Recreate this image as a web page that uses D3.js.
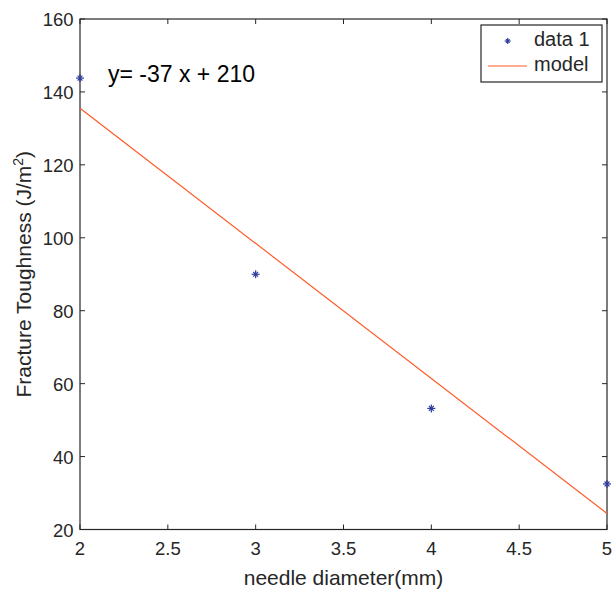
<!DOCTYPE html>
<html>
<head>
<meta charset="utf-8">
<script src="https://cdn.jsdelivr.net/npm/d3@7"></script>
<style>
  body { margin: 0; background: #fff; }
  text { font-family: "Liberation Sans", Arial, sans-serif; fill: #262626; }
</style>
</head>
<body>
<svg width="614" height="589"></svg>
<script>
// measured points
const diameter = [2, 3, 4, 5];
const toughness = [143.8, 90, 53.2, 32.5];

// fitted model endpoints
const modelX = [2, 5];
const modelY = [135.5, 24.4];

const xTicks = [2, 2.5, 3, 3.5, 4, 4.5, 5];
const yTicks = [20, 40, 60, 80, 100, 120, 140, 160];

const svg = d3.select("svg");
const plotLeft = 80, plotRight = 607, plotTop = 19, plotBottom = 529.5;

const x = d3.scaleLinear().domain([2, 5]).range([plotLeft, plotRight]);
const y = d3.scaleLinear().domain([20, 160]).range([plotBottom, plotTop]);

const axisColor = "#262626";
const tickFont = 18.5;

// frame
svg.append("rect")
    .attr("x", plotLeft).attr("y", plotTop)
    .attr("width", plotRight - plotLeft).attr("height", plotBottom - plotTop)
    .attr("fill", "none")
    .attr("stroke", axisColor)
    .attr("stroke-width", 1.2);

// ticks, inward on all four sides
const tickLen = 5;
xTicks.forEach(t => {
    svg.append("line").attr("x1", x(t)).attr("x2", x(t))
        .attr("y1", plotBottom).attr("y2", plotBottom - tickLen)
        .attr("stroke", axisColor);
    svg.append("line").attr("x1", x(t)).attr("x2", x(t))
        .attr("y1", plotTop).attr("y2", plotTop + tickLen)
        .attr("stroke", axisColor);
    svg.append("text")
        .attr("x", x(t)).attr("y", 555)
        .attr("text-anchor", "middle")
        .attr("font-size", tickFont)
        .text(t);
});
yTicks.forEach(t => {
    svg.append("line").attr("x1", plotLeft).attr("x2", plotLeft + tickLen)
        .attr("y1", y(t)).attr("y2", y(t))
        .attr("stroke", axisColor);
    svg.append("line").attr("x1", plotRight).attr("x2", plotRight - tickLen)
        .attr("y1", y(t)).attr("y2", y(t))
        .attr("stroke", axisColor);
    svg.append("text")
        .attr("x", 73.5).attr("y", y(t) + 7)
        .attr("text-anchor", "end")
        .attr("font-size", tickFont)
        .text(t);
});

// axis labels
svg.append("text")
    .attr("x", (plotLeft + plotRight) / 2).attr("y", 585)
    .attr("text-anchor", "middle")
    .attr("font-size", 21)
    .text("needle diameter(mm)");

const yl = svg.append("text")
    .attr("transform", `translate(31,${(plotTop + plotBottom) / 2}) rotate(-90)`)
    .attr("text-anchor", "middle")
    .attr("font-size", 21);
yl.append("tspan").text("Fracture Toughness (J/m");
yl.append("tspan").attr("dy", -8).attr("font-size", 14).text("2");
yl.append("tspan").attr("dy", 8).text(")");

// model line
const line = d3.line().x(d => x(d[0])).y(d => y(d[1]));
svg.append("path")
    .datum(d3.zip(modelX, modelY))
    .attr("d", line)
    .attr("fill", "none")
    .attr("stroke", "#ff5a28")
    .attr("stroke-width", 1.2);

// star markers
const starColor = "#2e3c9c";
function star(g, cx, cy, r) {
    const p = g.append("g").attr("stroke", starColor).attr("stroke-width", 1.2);
    p.append("line").attr("x1", cx - r).attr("x2", cx + r).attr("y1", cy).attr("y2", cy);
    p.append("line").attr("x1", cx).attr("x2", cx).attr("y1", cy - r).attr("y2", cy + r);
    p.append("line").attr("x1", cx - r * 0.6).attr("x2", cx + r * 0.6).attr("y1", cy - r * 0.6).attr("y2", cy + r * 0.6);
    p.append("line").attr("x1", cx - r * 0.6).attr("x2", cx + r * 0.6).attr("y1", cy + r * 0.6).attr("y2", cy - r * 0.6);
}
diameter.forEach((d, i) => star(svg, x(d), y(toughness[i]), 4));

// equation annotation
svg.append("text")
    .attr("x", 108).attr("y", 82)
    .attr("font-family", "Lato, Carlito, sans-serif")
    .attr("font-size", 23)
    .style("fill", "#000")
    .text("y= -37 x + 210");

// legend
const lg = svg.append("g");
lg.append("rect")
    .attr("x", 481).attr("y", 25)
    .attr("width", 121).attr("height", 57)
    .attr("fill", "#fff")
    .attr("stroke", axisColor)
    .attr("stroke-width", 1.2);
star(lg, 507.7, 41, 3);
lg.append("line")
    .attr("x1", 488).attr("x2", 527)
    .attr("y1", 66).attr("y2", 66)
    .attr("stroke", "#ff5a28").attr("stroke-width", 1.2);
lg.append("text").attr("x", 534).attr("y", 46).attr("font-size", 20).text("data 1");
lg.append("text").attr("x", 534).attr("y", 71).attr("font-size", 20).text("model");
</script>
</body>
</html>
